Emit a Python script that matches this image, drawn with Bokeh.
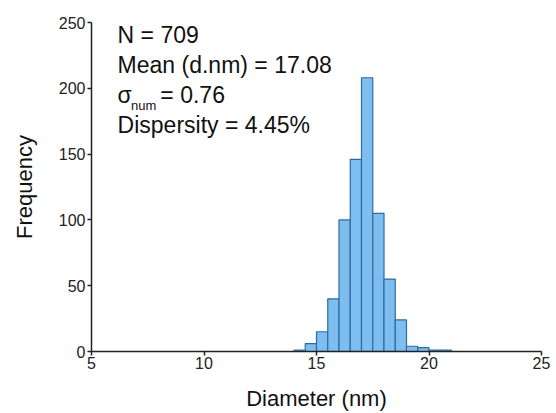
from bokeh.plotting import figure
from bokeh.models import Range1d, Label, FixedTicker, ColumnDataSource
from bokeh.embed import file_html
from bokeh.resources import INLINE

# Data: histogram of particle diameters (bin width 0.5 nm)
bin_left = [14.0, 14.5, 15.0, 15.5, 16.0, 16.5, 17.0, 17.5, 18.0, 18.5, 19.0, 19.5, 20.0, 20.5]
bin_right = [14.5, 15.0, 15.5, 16.0, 16.5, 17.0, 17.5, 18.0, 18.5, 19.0, 19.5, 20.0, 20.5, 21.0]
counts = [1, 6, 15, 40, 100, 146, 208, 105, 55, 24, 4, 3, 1, 1]
x_ticks = [5, 10, 15, 20, 25]
y_ticks = [0, 50, 100, 150, 200, 250]
stat_lines = ["N = 709", "Mean (d.nm) = 17.08", "= 0.76", "Dispersity = 4.45%"]
x_title = "Diameter (nm)"
y_title = "Frequency"

FONT = "Liberation Sans"

p = figure(width=556, height=413, output_backend="svg", toolbar_location=None,
           x_range=Range1d(5, 25), y_range=Range1d(0, 250),
           min_border_left=91, min_border_right=15, min_border_top=22, min_border_bottom=62)
p.outline_line_color = None
p.xgrid.visible = False
p.ygrid.visible = False
p.background_fill_color = "white"
p.border_fill_color = "white"

src = ColumnDataSource(dict(left=bin_left, right=bin_right, top=counts, bottom=[0] * len(counts)))
p.quad(left="left", right="right", top="top", bottom="bottom", source=src,
       fill_color="#7dbdf0", line_color="#2f6aa0", line_width=1.2)

for ax in (p.xaxis[0], p.yaxis[0]):
    ax.axis_line_color = "#222222"
    ax.axis_line_width = 1.5
    ax.major_tick_line_color = "#222222"
    ax.major_tick_line_width = 1.5
    ax.major_tick_in = 0
    ax.major_tick_out = 4
    ax.minor_tick_line_color = None
    ax.major_label_text_font = FONT
    ax.major_label_text_font_size = "16px"
    ax.major_label_text_color = "#222222"
    ax.axis_label_text_font = FONT
    ax.axis_label_text_font_size = "22px"
    ax.axis_label_text_font_style = "normal"
    ax.axis_label_text_color = "#111111"

p.xaxis.ticker = FixedTicker(ticks=x_ticks)
p.yaxis.ticker = FixedTicker(ticks=y_ticks)
p.xaxis.axis_label = x_title
p.yaxis.axis_label = y_title
p.xaxis.major_label_standoff = 1
p.yaxis.major_label_standoff = 2
p.xaxis.axis_label_standoff = 14
p.yaxis.axis_label_standoff = 19

# statistics annotation (data coordinates)
x0 = 6.16
ys = [230.4, 207.6, 184.7, 161.9]
common = dict(text_font=FONT, text_color="#111111", text_baseline="bottom")
p.add_layout(Label(x=x0, y=ys[0], text=stat_lines[0], text_font_size="23px", **common))
p.add_layout(Label(x=x0, y=ys[1], text=stat_lines[1], text_font_size="23px", **common))
p.add_layout(Label(x=x0, y=ys[2], text="σ", text_font_size="23px", **common))
p.add_layout(Label(x=x0 + 0.60, y=ys[2] - 3.5, text="num", text_font_size="13px", **common))
p.add_layout(Label(x=x0 + 1.90, y=ys[2], text=stat_lines[2], text_font_size="23px", **common))
p.add_layout(Label(x=x0, y=ys[3], text=stat_lines[3], text_font_size="23px", **common))

open("out.html", "w").write(file_html(p, INLINE))
